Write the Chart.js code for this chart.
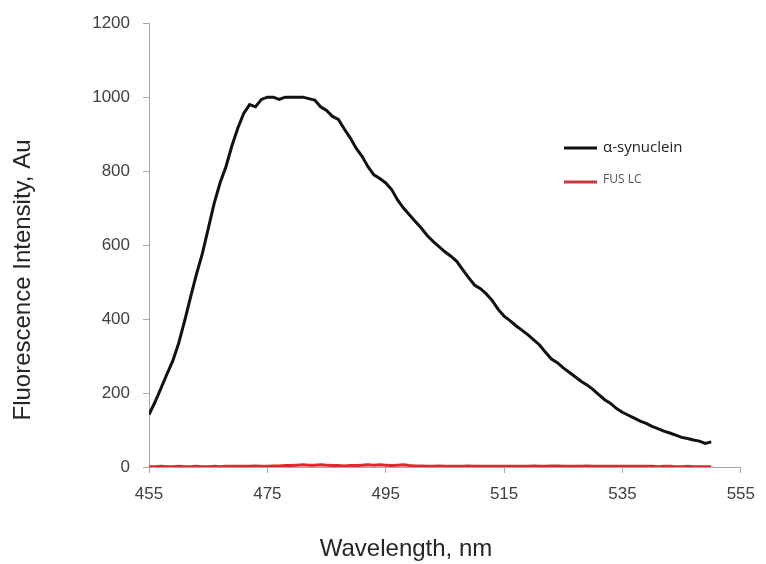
<!DOCTYPE html>
<html>
<head>
<meta charset="utf-8">
<script src="https://cdn.jsdelivr.net/npm/chart.js@4/dist/chart.umd.min.js"></script>
<style>
  body { margin: 0; background: #fff; }
  #wrap { width: 766px; height: 564px; position: relative; }
</style>
</head>
<body>
<div id="wrap"><canvas id="spectrum"></canvas></div>
<script>
// Emission spectrum (nm -> au)
const wavelengths = [
  455, 456, 457, 458, 459, 460, 461, 462, 463, 464, 465, 466, 467, 468, 469, 470,
  471, 472, 473, 474, 475, 476, 477, 478, 479, 480, 481, 482, 483, 484, 485, 486,
  487, 488, 489, 490, 491, 492, 493, 494, 495, 496, 497, 498, 499, 500, 501, 502,
  503, 504, 505, 506, 507, 508, 509, 510, 511, 512, 513, 514, 515, 516, 517, 518,
  519, 520, 521, 522, 523, 524, 525, 526, 527, 528, 529, 530, 531, 532, 533, 534,
  535, 536, 537, 538, 539, 540, 541, 542, 543, 544, 545, 546, 547, 548, 549, 550
];
const synuclein = [
  142, 175, 212, 250, 286, 334, 394, 458, 520, 576, 644, 712, 768, 812, 868, 916,
  956, 980, 974, 994, 1000, 1000, 994, 1000, 1000, 1000, 1000, 996, 992, 974, 964, 948,
  940, 914, 890, 862, 840, 812, 790, 780, 768, 750, 722, 700, 682, 664, 646, 626,
  610, 596, 582, 570, 556, 534, 512, 492, 482, 468, 450, 426, 408, 396, 382, 370,
  358, 344, 330, 310, 292, 282, 268, 256, 244, 232, 222, 210, 196, 182, 172, 158,
  148, 140, 132, 124, 118, 110, 104, 97, 92, 86, 80, 77, 73, 70, 64, 68
];
const fusLC = [
  1, 1, 2, 1, 1, 2, 1, 1, 2, 1, 1, 2, 1, 2, 2, 2,
  2, 2, 3, 2, 2, 3, 3, 4, 4, 5, 6, 5, 5, 6, 5, 4,
  4, 3, 4, 4, 5, 6, 5, 6, 5, 4, 5, 6, 4, 3, 3, 2,
  2, 3, 2, 2, 2, 2, 3, 2, 2, 2, 2, 2, 2, 2, 2, 2,
  2, 3, 2, 2, 3, 3, 2, 2, 2, 2, 3, 2, 2, 2, 2, 2,
  2, 2, 2, 2, 2, 2, 1, 2, 2, 1, 1, 2, 1, 1, 1, 1
];
const seriesNames = ['\u03b1-synuclein', 'FUS LC'];
const xTicks = [455, 475, 495, 515, 535, 555];
const yTicks = [0, 200, 400, 600, 800, 1000, 1200];

const FONT = '"Liberation Sans", Arial, sans-serif';
const AXIS_GREY = '#a6a6a6';

function toPoints(ys) {
  return wavelengths.map((w, i) => ({ x: w, y: ys[i] }));
}

// axis titles and the little legend sit where Excel put them, not centred
const annotations = {
  id: 'annotations',
  afterDraw(chart) {
    const ctx = chart.ctx;
    ctx.save();
    ctx.fillStyle = '#262626';
    ctx.font = '24px ' + FONT;
    ctx.textAlign = 'center';
    ctx.textBaseline = 'middle';
    ctx.fillText('Wavelength, nm', 406, 549);
    ctx.translate(23, 280);
    ctx.rotate(-Math.PI / 2);
    ctx.fillText('Fluorescence Intensity, Au', 0, 0);
    ctx.restore();

    // legend
    const rows = [
      { y: 148, color: '#111', font: '15px "Open Sans", sans-serif', textColor: '#222' },
      { y: 182, color: '#c8393c', font: '12px "Open Sans", sans-serif', textColor: '#555' }
    ];
    ctx.save();
    rows.forEach((r, i) => {
      ctx.strokeStyle = r.color;
      ctx.lineWidth = 3;
      ctx.beginPath();
      ctx.moveTo(564, r.y);
      ctx.lineTo(597, r.y);
      ctx.stroke();
      ctx.fillStyle = r.textColor;
      ctx.font = r.font;
      ctx.textAlign = 'left';
      ctx.textBaseline = 'middle';
      ctx.fillText(seriesNames[i], 603, r.y - (i === 1 ? 2 : 0));
    });
    ctx.restore();
  }
};

new Chart(document.getElementById('spectrum'), {
  type: 'line',
  data: {
    datasets: [
      {
        label: seriesNames[0],
        data: toPoints(synuclein),
        borderColor: '#111111',
        borderWidth: 3,
        pointRadius: 0,
        tension: 0
      },
      {
        label: seriesNames[1],
        data: toPoints(fusLC),
        borderColor: '#e3262d',
        borderWidth: 3,
        pointRadius: 0,
        tension: 0
      }
    ]
  },
  options: {
    responsive: true,
    maintainAspectRatio: false,
    animation: false,
    layout: { padding: { top: 22, right: 23, left: 0, bottom: 0 } },
    plugins: {
      legend: { display: false },
      tooltip: { enabled: false }
    },
    scales: {
      x: {
        type: 'linear',
        min: 455,
        max: 555,
        afterBuildTicks: s => { s.ticks = xTicks.map(v => ({ value: v })); },
        afterFit: s => { s.height = 97; },
        border: { display: true, color: AXIS_GREY, width: 1 },
        grid: { drawOnChartArea: false, drawTicks: true, tickLength: 6, color: AXIS_GREY },
        ticks: { color: '#404040', font: { size: 17, family: FONT }, padding: 11, maxRotation: 0,
                 callback: v => String(v) }
      },
      y: {
        min: 0,
        max: 1200,
        afterBuildTicks: s => { s.ticks = yTicks.map(v => ({ value: v })); },
        afterFit: s => { s.width = 149; },
        border: { display: true, color: AXIS_GREY, width: 1 },
        grid: { drawOnChartArea: false, drawTicks: true, tickLength: 6, color: AXIS_GREY },
        ticks: { color: '#404040', font: { size: 17, family: FONT }, padding: 13,
                 callback: v => String(v) }
      }
    }
  },
  plugins: [annotations]
});
</script>
</body>
</html>
